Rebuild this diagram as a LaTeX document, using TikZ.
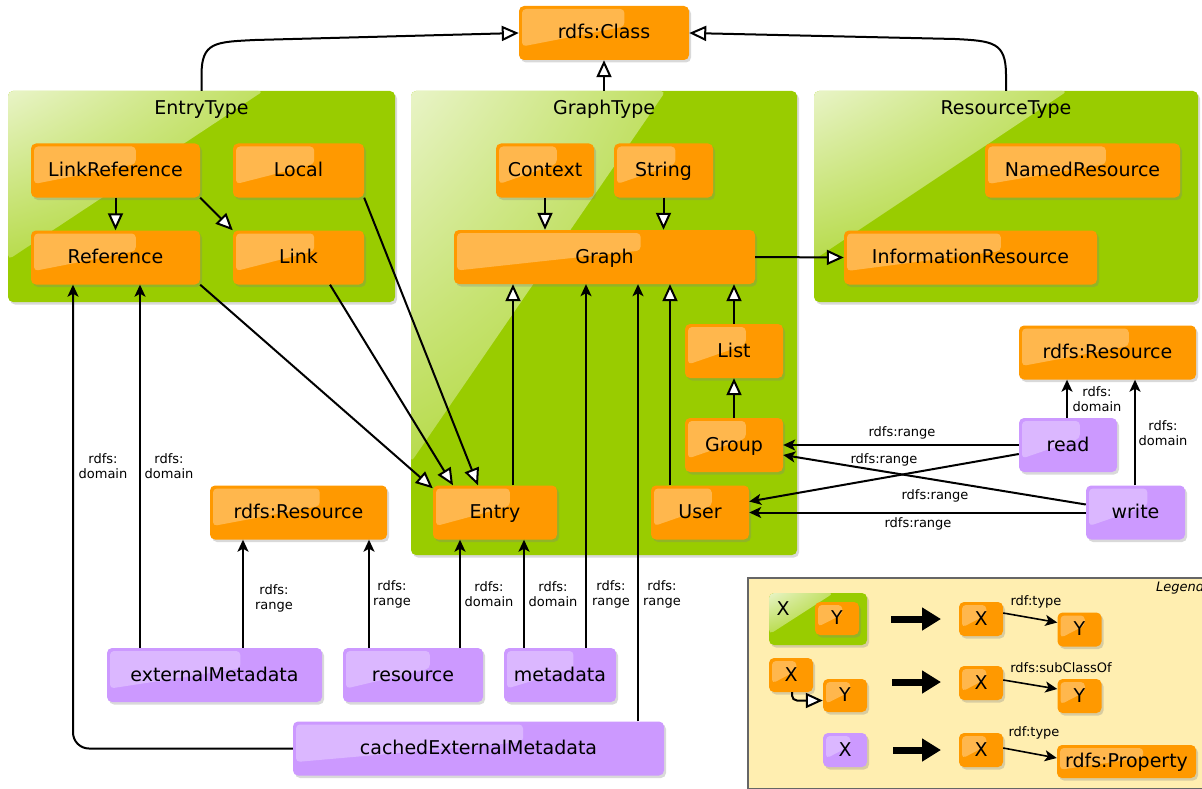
\documentclass[tikz,border=0pt]{standalone}
\usepackage{fontspec}
\setmainfont{DejaVu Sans}
\usetikzlibrary{arrows.meta,calc,shadows,shadings}
\definecolor{org}{RGB}{255,153,0}
\definecolor{pur}{RGB}{204,153,255}
\definecolor{grn}{RGB}{153,204,0}
\definecolor{leg}{RGB}{255,238,176}
\newcommand\bigfont{\fontsize{19}{22}\selectfont}
\newcommand\smallfont{\fontsize{13}{15}\selectfont}
\begin{document}
\begin{tikzpicture}[x=1pt,y=-1pt,
 gloss/.style={path picture={\fill[white,fill opacity=0.3,rounded corners=4pt] let \p1=(path picture bounding box.north west), \p2=(path picture bounding box.south east) in (\x1+3pt,\y1-3pt) -- ({\x1+0.62*(\x2-\x1)},\y1-3pt) -- ({\x1+0.62*(\x2-\x1)},{\y1+0.38*(\y2-\y1)}) -- (\x1+3pt,{\y1+0.75*(\y2-\y1)}) -- cycle;}},
 shadowed/.style={drop shadow={shadow xshift=2pt,shadow yshift=-2.5pt,opacity=0.3}},
 box/.style={rounded corners=5pt, minimum height=54pt, inner sep=0pt, font=\bigfont, text height=14pt, text depth=2pt, shadowed, gloss},
 cbox/.style={box, fill=org},
 pbox/.style={box, fill=pur},
 sbox/.style={cbox, minimum width=44pt, minimum height=34pt},
 gbox/.style={fill=grn, rounded corners=5pt, shadowed, inner sep=0pt,
   path picture={\shade[upper left=white!78!grn, upper right=grn!82!white, lower left=grn!82!white, lower right=grn!92!white] let \p1=(path picture bounding box.north west), \p2=(path picture bounding box.south east) in (\x1,\y1) -- ({\x1+0.66*(\x2-\x1)},\y1) -- (\x1,{\y1+0.8*(\y2-\y1)}) -- cycle;}},
 title/.style={font=\bigfont, inner sep=0pt, text height=14pt, text depth=2pt},
 sub/.style={line width=2pt, -{Triangle[fill=white, length=17pt, width=15pt]}},
 dom/.style={line width=2pt, -{Stealth[length=12pt, width=11pt, inset=3pt]}},
 lbl/.style={font=\smallfont, align=center, inner sep=0pt},
 fat/.style={line width=7pt, -{Triangle[length=19pt, width=22pt]}},
]
\useasboundingbox (0,0) rectangle (1202,789);

% containers
\node[gbox, minimum width=387pt, minimum height=211pt] (et) at (201.5,196.5) {};
\node[gbox, minimum width=386pt, minimum height=464pt] (gt) at (604,323) {};
\node[gbox, minimum width=384pt, minimum height=211pt] (rt) at (1006,196.5) {};
\node[title] (ett) at (201.5,109) {EntryType};
\node[title] (gtt) at (604,109) {GraphType};
\node[title] (rtt) at (1006,109) {ResourceType};

% boxes
\node[cbox, minimum width=170pt] (cls) at (604,33) {rdfs:Class};
\node[cbox, minimum width=169pt] (lref) at (115.5,170.5) {LinkReference};
\node[cbox, minimum width=131pt] (local) at (298.5,170.5) {Local};
\node[cbox, minimum width=169pt] (ref) at (115.5,257.5) {Reference};
\node[cbox, minimum width=131pt] (link) at (298.5,257.5) {Link};
\node[cbox, minimum width=98pt] (ctx) at (545,170.5) {Context};
\node[cbox, minimum width=99pt] (str) at (663.5,170.5) {String};
\node[cbox, minimum width=301pt] (graph) at (604.5,257) {Graph};
\node[cbox, minimum width=98pt] (list) at (734,351) {List};
\node[cbox, minimum width=98pt] (group) at (734,445) {Group};
\node[cbox, minimum width=124pt] (entry) at (495,512.5) {Entry};
\node[cbox, minimum width=98pt] (user) at (700,512.5) {User};
\node[cbox, minimum width=195pt] (nres) at (1082.5,170.5) {NamedResource};
\node[cbox, minimum width=253pt] (ires) at (970.5,257.5) {InformationResource};
\node[cbox, minimum width=177pt] (resR) at (1107.5,352.5) {rdfs:Resource};
\node[cbox, minimum width=177pt] (resL) at (298.5,512.5) {rdfs:Resource};
\node[pbox, minimum width=98pt] (read) at (1068,445) {read};
\node[pbox, minimum width=99pt] (write) at (1135.5,512.5) {write};
\node[pbox, minimum width=215pt] (em) at (214.5,675) {externalMetadata};
\node[pbox, minimum width=140pt] (res) at (413,675) {resource};
\node[pbox, minimum width=112pt] (meta) at (560,675) {metadata};
\node[pbox, minimum width=371pt] (cem) at (478.5,748.5) {cachedExternalMetadata};

% subclass / type edges
\draw[sub] (et.north) -- (201.5,75) .. controls (201.5,42) and (215,42) .. (255,40) -- (cls.west);
\draw[sub] (rt.north) -- (1006,75) .. controls (1006,42) and (993,41) .. (955,39) -- (cls.east);
\draw[sub] (gt.north) -- (cls.south);
\draw[sub] (lref.south) -- (ref.north);
\draw[sub] (lref.south east) -- (link.north west);
\draw[sub] (ctx.south) -- (ctx.south |- graph.north);
\draw[sub] (str.south) -- (str.south |- graph.north);
\draw[sub] (graph.east) -- (ires.west);
\draw[sub] (entry.north -| 513,0) -- (graph.south -| 513,0);
\draw[sub] (user.north -| 670,0) -- (graph.south -| 670,0);
\draw[sub] (list.north) -- (list.north |- graph.south);
\draw[sub] (group.north) -- (list.south);
\draw[sub] (ref.south east) -- ($(entry.north west)+(0,3)$);
\draw[sub] (link.south -| 330,0) -- (entry.north -| 453,0);
\draw[sub] (local.south east) -- (entry.north -| 478,0);

% domain / range edges
\draw[dom] (em.north -| 140,0) -- (ref.south -| 140,0);
\draw[dom, rounded corners=16pt] (cem.west) -| (ref.south -| 73,0);
\draw[dom] (em.north -| 243,0) -- (resL.south -| 243,0);
\draw[dom] (res.north -| 369,0) -- (resL.south -| 369,0);
\draw[dom] (res.north -| 460,0) -- (entry.south -| 460,0);
\draw[dom] (meta.north -| 524,0) -- (entry.south -| 524,0);
\draw[dom] (meta.north -| 586,0) -- (graph.south -| 586,0);
\draw[dom] (cem.north -| 638,0) -- (graph.south -| 638,0);
\draw[dom] (read.north -| 1067,0) -- (resR.south -| 1067,0);
\draw[dom] (write.north -| 1135,0) -- (resR.south -| 1135,0);
\draw[dom] (read.west) -- (group.east);
\draw[dom] ($(read.west)+(0,9)$) -- ($(user.east)+(0,-11)$);
\draw[dom] ($(write.west)+(0,-8)$) -- ($(group.east)+(0,10)$);
\draw[dom] (write.west) -- (user.east);

% labels
\node[lbl] (l1) at (103,466) {rdfs:\\domain};
\node[lbl] (l2) at (169,466) {rdfs:\\domain};
\node[lbl] (l3) at (274,598) {rdfs:\\range};
\node[lbl] (l4) at (392,594) {rdfs:\\range};
\node[lbl] (l5) at (489,594) {rdfs:\\domain};
\node[lbl] (l6) at (553,594) {rdfs:\\domain};
\node[lbl] (l7) at (611,594) {rdfs:\\range};
\node[lbl] (l8) at (662,594) {rdfs:\\range};
\node[lbl] (l9) at (1097,399) {rdfs:\\domain};
\node[lbl] (l10) at (1163,433) {rdfs:\\domain};
\node[lbl] (l11) at (902,433) {rdfs:range};
\node[lbl] (l12) at (884,460) {rdfs:range};
\node[lbl] (l13) at (935,496) {rdfs:range};
\node[lbl] (l14) at (918,524) {rdfs:range};

% legend
\node[draw=black!60, line width=1.5pt, fill=leg, minimum width=480pt, minimum height=211pt, anchor=north west, inner sep=0pt] (legend) at (747,577) {};
\node[font=\smallfont\itshape, anchor=base west, inner sep=0pt] (legt) at (1156,591) {Legend};

\node[gbox, minimum width=98pt, minimum height=52pt] (lg1) at (818,619) {};
\node[title] (lg1x) at (783,609) {X};
\node[sbox, minimum height=33pt] (lg1y) at (837,618.5) {Y};
\coordinate (f1a) at (891,619); \coordinate (f1b) at (941,619);
\draw[fat] (f1a) -- (f1b);
\node[sbox] (x1) at (981,619) {X};
\node[sbox] (y1) at (1079.5,629.5) {Y};
\draw[dom, line width=1.6pt] ($(x1.east)+(0,-6)$) -- ($(y1.west)+(0,-7)$);
\node[lbl] (t1) at (1036,602) {rdf:type};

\node[sbox] (lx2) at (791,675) {X};
\node[sbox, minimum height=33pt] (ly2) at (845,695.5) {Y};
\draw[sub, rounded corners=5pt] (lx2.south -| 792,0) |- ($(ly2.west)+(0,5)$);
\coordinate (f2a) at (892,682); \coordinate (f2b) at (941,682);
\draw[fat] (f2a) -- (f2b);
\node[sbox] (x2) at (981,683) {X};
\node[sbox] (y2) at (1079.5,696) {Y};
\draw[dom, line width=1.6pt] ($(x2.east)+(0,-3)$) -- ($(y2.west)+(0,-7)$);
\node[lbl] (t2) at (1061,668) {rdfs:subClassOf};

\node[pbox, minimum width=44pt, minimum height=34pt] (lp3) at (845,750) {X};
\coordinate (f3a) at (893,750); \coordinate (f3b) at (941,750);
\draw[fat] (f3a) -- (f3b);
\node[sbox] (x3) at (981,750) {X};
\node[cbox, minimum width=139pt, minimum height=33pt] (prop) at (1126.5,761.5) {rdfs:Property};
\draw[dom, line width=1.6pt] ($(x3.east)+(0,-2)$) -- ($(prop.west)+(0,-3.5)$);
\node[lbl] (t3) at (1034,733) {rdf:type};
\end{tikzpicture}
\end{document}
